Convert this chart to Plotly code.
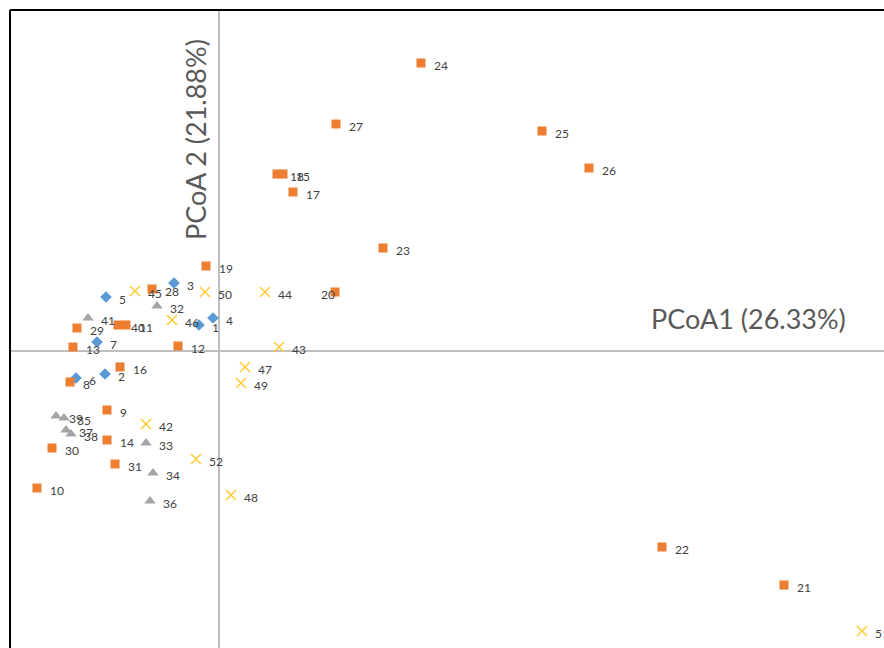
import plotly.graph_objects as go

# PCoA sample scores, grouped by sample type
orange_ids = ["24", "27", "25", "26", "18", "15", "17", "23", "19", "20", "28", "12", "29", "13",
              "40", "11", "16", "8", "9", "14", "30", "31", "10", "22", "21"]
orange_x = [0.202, 0.117, 0.323, 0.370, 0.058, 0.064, 0.074, 0.164, -0.013, 0.116, -0.067, -0.041,
            -0.142, -0.146, -0.101, -0.093, -0.099, -0.149, -0.112, -0.112, -0.167, -0.104, -0.182,
            0.443, 0.565]
orange_y = [0.288, 0.227, 0.220, 0.183, 0.177, 0.177, 0.159, 0.103, 0.085, 0.059, 0.062, 0.005,
            0.023, 0.004, 0.026, 0.026, -0.016, -0.031, -0.059, -0.089, -0.097, -0.113, -0.137,
            -0.196, -0.234]

blue_ids = ["1", "2", "3", "4", "5", "6", "7"]
blue_x = [-0.020, -0.114, -0.045, -0.006, -0.113, -0.143, -0.122]
blue_y = [0.026, -0.023, 0.068, 0.033, 0.054, -0.027, 0.009]

gray_ids = ["32", "33", "34", "39", "35", "37", "38", "36", "41"]
gray_x = [-0.062, -0.073, -0.066, -0.163, -0.155, -0.153, -0.148, -0.069, -0.131]
gray_y = [0.045, -0.092, -0.122, -0.065, -0.067, -0.079, -0.083, -0.150, 0.033]

yellow_ids = ["42", "43", "44", "45", "46", "47", "48", "49", "50", "51", "52"]
yellow_x = [-0.073, 0.060, 0.046, -0.084, -0.047, 0.026, 0.012, 0.022, -0.014, 0.643, -0.023]
yellow_y = [-0.073, 0.004, 0.059, 0.060, 0.031, -0.016, -0.144, -0.032, 0.059, -0.280, -0.108]

pc1_label = "PCoA1 (26.33%)"
pc2_label = "PCoA 2 (21.88%)"

groups = [
    (blue_ids, blue_x, blue_y, "diamond", "#5B9BD5", 9),
    (gray_ids, gray_x, gray_y, "triangle-up", "#A5A5A5", 10),
    (yellow_ids, yellow_x, yellow_y, "x-thin-open", "#FFCC33", 10),
    (orange_ids, orange_x, orange_y, "square", "#ED7D31", 9),
]

label_font = dict(family="Lato", size=12, color="#404040")

fig = go.Figure()
annotations = []
for ids, xs, ys, sym, col, size in groups:
    marker = dict(symbol=sym, color=col, size=size)
    if sym.endswith("open"):
        marker["line"] = dict(color=col, width=1.5)
    fig.add_trace(go.Scatter(x=xs, y=ys, mode="markers", marker=marker,
                             hoverinfo="text", text=ids, showlegend=False))
    for sid, x, y in zip(ids, xs, ys):
        if sid == "20":
            # this label sits on top of its own marker
            annotations.append(dict(x=x, y=y, text=sid, showarrow=False, xanchor="center",
                                    xshift=-7, yshift=-2, font=label_font))
        else:
            annotations.append(dict(x=x, y=y, text=sid, showarrow=False, xanchor="left",
                                    xshift=11, yshift=-2, font=label_font))

# axis titles placed next to the zero lines
annotations.append(dict(x=0.529, y=0.033, text=pc1_label, showarrow=False,
                        xanchor="center", yanchor="middle",
                        font=dict(family="Lato", size=27, color="#595959")))
annotations.append(dict(x=-0.024, y=0.211, text=pc2_label, showarrow=False, textangle=-90,
                        xanchor="center", yanchor="middle",
                        font=dict(family="Lato", size=27, color="#595959")))

axis_common = dict(showgrid=False, showticklabels=False, ticks="", showline=False,
                   zeroline=True, zerolinecolor="#BFBFBF", zerolinewidth=2)
fig.update_layout(
    width=884, height=648,
    margin=dict(l=10, r=0, t=10, b=0),
    paper_bgcolor="white", plot_bgcolor="white",
    xaxis=dict(range=[-0.209, 0.665], **axis_common),
    yaxis=dict(range=[-0.297, 0.341], **axis_common),
    annotations=annotations,
    shapes=[
        dict(type="line", xref="paper", yref="paper", x0=0, x1=0, y0=0, y1=1,
             line=dict(color="black", width=2)),
        dict(type="line", xref="paper", yref="paper", x0=0, x1=1, y0=1, y1=1,
             line=dict(color="black", width=2)),
    ],
)

fig.write_html("out.html")
